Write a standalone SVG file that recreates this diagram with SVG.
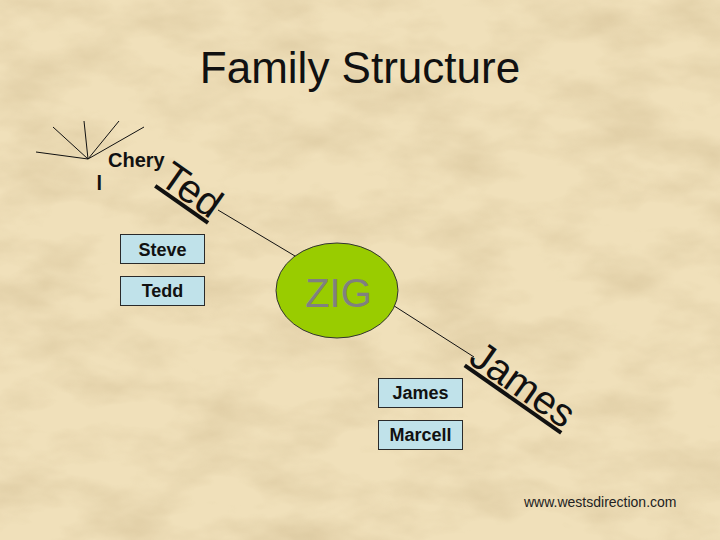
<svg xmlns="http://www.w3.org/2000/svg" width="720" height="540" viewBox="0 0 720 540">
  <defs>
    <filter id="parchment" x="0" y="0" width="100%" height="100%">
      <feTurbulence type="fractalNoise" baseFrequency="0.012 0.025" numOctaves="4" seed="7" result="noise"/>
      <feColorMatrix in="noise" type="matrix" values="0 0 0 0 0.55  0 0 0 0 0.42  0 0 0 0 0.22  1.6 0 0 0 -0.62"/>
    </filter>
    <style>
      .box { fill: #c0e2ea; stroke: #2a2a2a; stroke-width: 1; }
      .boxtext { font-family: "Liberation Sans", Arial, sans-serif; font-weight: bold; font-size: 18px; fill: #111; text-anchor: middle; }
      .ray { stroke: #111; stroke-width: 1; }
      .conn { stroke: #111; stroke-width: 1; fill: none; }
      .big { font-family: "Liberation Sans", Arial, sans-serif; font-size: 40px; fill: #111; text-decoration: underline; }
    </style>
  </defs>

  <rect x="0" y="0" width="720" height="540" fill="#f0e0ba"/>
  <rect x="0" y="0" width="720" height="540" filter="url(#parchment)" opacity="0.45"/>

  <text x="360" y="83" text-anchor="middle" font-family="'Liberation Sans', Arial, sans-serif" font-size="44" fill="#111">Family Structure</text>

  <g id="rays">
    <line class="ray" x1="88" y1="159" x2="36" y2="152"/>
    <line class="ray" x1="88" y1="159" x2="53" y2="127"/>
    <line class="ray" x1="88" y1="159" x2="84" y2="121"/>
    <line class="ray" x1="88" y1="159" x2="119" y2="121"/>
    <line class="ray" x1="88" y1="159" x2="144" y2="127"/>
  </g>

  <g id="cheryl">
    <text font-family="'Liberation Sans', Arial, sans-serif" font-weight="bold" font-size="20" fill="#111"><tspan x="108" y="167">Chery</tspan><tspan x="96.5" y="190">l</tspan></text>
  </g>

  <g id="connectors">
    <line class="conn" x1="218" y1="210" x2="300" y2="259"/>
    <line class="conn" x1="388" y1="302" x2="474" y2="357"/>
  </g>

  <g id="ted">
    <text class="big" transform="translate(157.5 182.5) rotate(35)" x="0" y="0">Ted</text>
  </g>

  <g id="james-label">
    <text class="big" transform="translate(467 362) rotate(35)" x="0" y="0">James</text>
  </g>

  <g id="zig">
    <ellipse cx="337" cy="290.5" rx="61" ry="47.5" fill="#99cc00" stroke="#333" stroke-width="1"/>
    <text x="338.5" y="307" text-anchor="middle" font-family="'Liberation Sans', Arial, sans-serif" font-size="40" fill="#808080">ZIG</text>
  </g>

  <g id="steve">
    <rect class="box" x="120.5" y="234.5" width="84" height="29"/>
    <text class="boxtext" x="162.5" y="256">Steve</text>
  </g>
  <g id="tedd">
    <rect class="box" x="120.5" y="276.5" width="84" height="29"/>
    <text class="boxtext" x="162.5" y="297">Tedd</text>
  </g>
  <g id="james">
    <rect class="box" x="378.5" y="378.5" width="84" height="29"/>
    <text class="boxtext" x="420.5" y="399">James</text>
  </g>
  <g id="marcell">
    <rect class="box" x="378.5" y="420.5" width="84" height="29"/>
    <text class="boxtext" x="420.5" y="441">Marcell</text>
  </g>

  <text x="524" y="507" font-family="'Liberation Sans', Arial, sans-serif" font-size="14" fill="#222">www.westsdirection.com</text>
</svg>
